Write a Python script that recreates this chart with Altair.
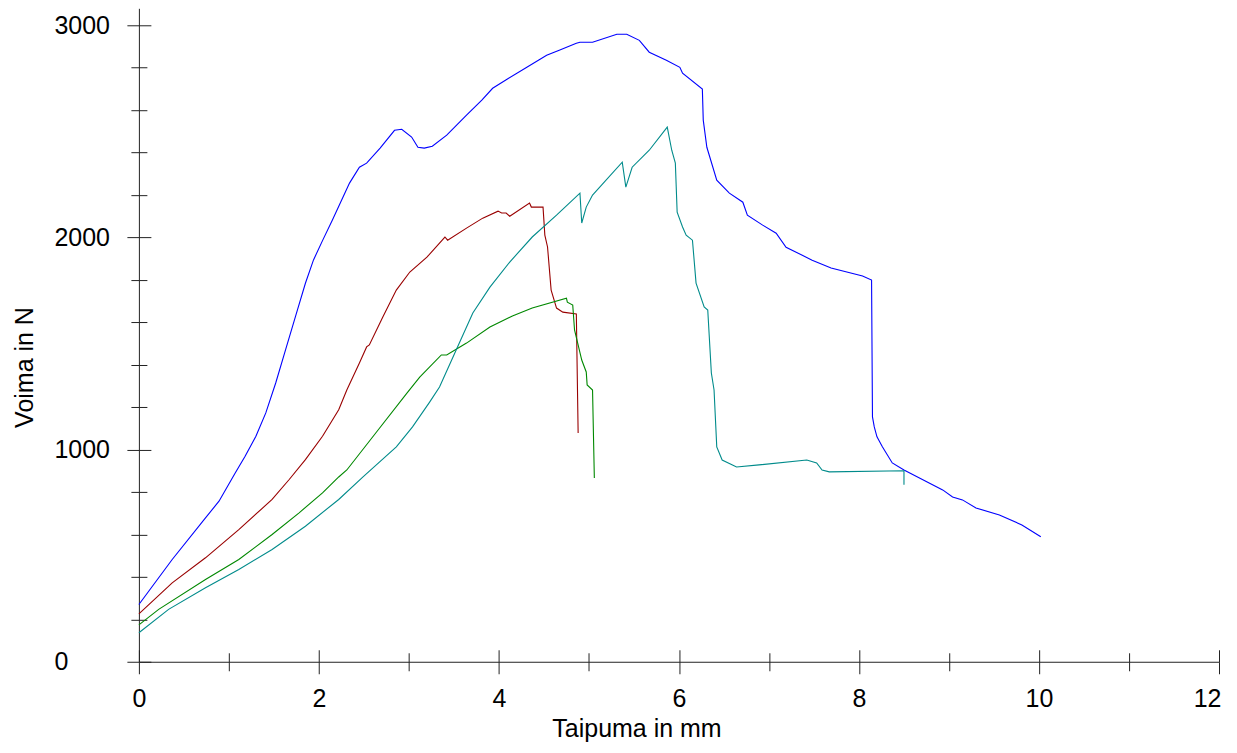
import altair as alt
import pandas as pd

# ---- data ----
blue_x = [0, 0.37, 0.74, 0.89, 1.07, 1.18, 1.30, 1.41, 1.52, 1.63, 1.74, 1.85, 1.94, 2.04, 2.15,
          2.34, 2.45, 2.53, 2.68, 2.84, 2.92, 3.03, 3.10, 3.17, 3.26, 3.42, 3.64, 3.81, 3.93, 4.09,
          4.31, 4.53, 4.67, 4.86, 4.90, 5.04, 5.31, 5.42, 5.56, 5.67, 5.86, 6.01, 6.04, 6.26, 6.27,
          6.31, 6.42, 6.56, 6.71, 6.76, 6.93, 7.08, 7.19, 7.48, 7.69, 8.04, 8.14, 8.15, 8.17, 8.20,
          8.26, 8.37, 8.50, 8.93, 9.04, 9.15, 9.30, 9.56, 9.81, 10.02]
blue_y = [270, 482, 678, 757, 890, 969, 1063, 1173, 1314, 1471, 1628, 1784, 1894, 1985, 2082,
          2256, 2331, 2350, 2421, 2505, 2510, 2473, 2425, 2421, 2430, 2482, 2576, 2647, 2703, 2746,
          2802, 2859, 2882, 2915, 2920, 2920, 2958, 2958, 2929, 2873, 2835, 2802, 2774, 2699, 2553,
          2425, 2270, 2209, 2166, 2105, 2058, 2020, 1954, 1893, 1856, 1818, 1799, 1154, 1107, 1060,
          1013, 937, 904, 810, 777, 763, 725, 692, 645, 589]

red_x = [0, 0.37, 0.74, 1.11, 1.48, 1.67, 1.85, 2.04, 2.22, 2.31, 2.45, 2.53, 2.56, 2.71, 2.86,
         3.01, 3.20, 3.40, 3.43, 3.64, 3.82, 3.99, 4.03, 4.08, 4.12, 4.34, 4.36, 4.49, 4.51, 4.54,
         4.58, 4.64, 4.71, 4.86, 4.88]
red_y = [226, 372, 490, 623, 765, 859, 953, 1063, 1188, 1281, 1408, 1484, 1493, 1625, 1752,
         1837, 1907, 2002, 1987, 2044, 2091, 2124, 2115, 2115, 2100, 2162, 2143, 2143, 2011, 1955,
         1752, 1667, 1648, 1639, 1078]

green_x = [0, 0.22, 0.74, 1.11, 1.48, 1.78, 2.04, 2.22, 2.31, 2.64, 2.98, 3.12, 3.36, 3.42, 3.64,
           3.90, 4.15, 4.37, 4.75, 4.76, 4.82, 4.84, 4.92, 4.97, 4.98, 5.04, 5.06]
green_y = [174, 247, 388, 482, 600, 702, 796, 871, 904, 1083, 1267, 1342, 1446, 1446, 1502,
           1578, 1630, 1667, 1714, 1695, 1681, 1564, 1422, 1366, 1305, 1281, 866]

teal_x = [0, 0.33, 0.74, 1.11, 1.48, 1.85, 2.22, 2.49, 2.86, 3.04, 3.23, 3.34, 3.54, 3.71, 3.90,
          4.12, 4.37, 4.64, 4.90, 4.92, 4.97, 5.04, 5.12, 5.37, 5.41, 5.48, 5.67, 5.87, 5.92, 5.96,
          5.98, 6.04, 6.08, 6.15, 6.19, 6.28, 6.32, 6.36, 6.39, 6.42, 6.48, 6.64, 6.89, 7.42, 7.53,
          7.59, 7.67, 8.50, 8.50]
teal_y = [137, 247, 349, 435, 529, 639, 765, 871, 1013, 1107, 1224, 1295, 1484, 1644, 1766,
          1884, 2002, 2105, 2209, 2068, 2143, 2200, 2237, 2355, 2237, 2331, 2411, 2520, 2411, 2350,
          2119, 2049, 2011, 1987, 1785, 1672, 1658, 1361, 1281, 1013, 951, 918, 928, 951, 937,
          904, 895, 900, 834]

series_names = ["blue", "red", "green", "teal"]
series_colors = ["#0000FF", "#990000", "#008800", "#008B8B"]

x_major = [0, 2, 4, 6, 8, 10]
x_last = [12]
x_minor = [1, 3, 5, 7, 9, 11]
y_major = [0, 1000, 2000, 3000]
y_minor = [200, 400, 600, 800, 1200, 1400, 1600, 1800, 2200, 2400, 2600, 2800]

x_title = "Taipuma in mm"
y_title = "Voima in N"

# ---- table ----
rows = []
for name, xs, ys in [("blue", blue_x, blue_y), ("red", red_x, red_y),
                     ("green", green_x, green_y), ("teal", teal_x, teal_y)]:
    for i, (xv, yv) in enumerate(zip(xs, ys)):
        rows.append({"s": name, "i": i, "x": xv, "y": yv})
df = pd.DataFrame(rows)

FONT = "Liberation Sans"
FS = 25
AX = "#222222"

xscale = alt.Scale(domain=[0, 12], nice=False, zero=False)
yscale = alt.Scale(domain=[0, 3080], nice=False, zero=False)

base = alt.Chart(df)

lines = base.mark_line(strokeWidth=1.1).encode(
    x=alt.X("x:Q", scale=xscale, axis=alt.Axis(
        orient="bottom", values=x_major, format="d", tickSize=12, tickColor=AX, tickWidth=1,
        domainColor=AX, domainWidth=1, grid=False, labelFont=FONT, labelFontSize=FS,
        labelColor="black", labelPadding=13, labelFlush=False, labelOverlap=False,
        title=x_title, titleFont=FONT, titleFontSize=FS, titleFontWeight="normal",
        titleColor="black", titleX=498, titleY=75, titleAlign="center",
        titleBaseline="alphabetic")),
    y=alt.Y("y:Q", scale=yscale, axis=alt.Axis(
        orient="left", values=y_major, format="d", tickSize=12, tickColor=AX, tickWidth=1,
        domainColor=AX, domainWidth=1, grid=False, labelFont=FONT, labelFontSize=FS,
        labelColor="black", labelPadding=73, labelAlign="left", labelBaseline="middle",
        labelFlush=False, labelOverlap=False,
        title=y_title, titleFont=FONT, titleFontSize=FS, titleFontWeight="normal",
        titleColor="black", titleAngle=270, titleX=-106, titleY=359, titleAlign="center",
        titleBaseline="alphabetic")),
    color=alt.Color("s:N", scale=alt.Scale(domain=series_names, range=series_colors), legend=None),
    order=alt.Order("i:Q"),
)

# last x label, kept inside the picture
last_label = base.mark_point(opacity=0, size=1).encode(
    x=alt.X("x:Q", scale=xscale, axis=alt.Axis(
        orient="bottom", values=x_last, format="d", tickSize=12, tickColor=AX, tickWidth=1,
        domain=False, grid=False, labelFont=FONT, labelFontSize=FS, labelColor="black",
        labelPadding=13, labelFlush=True, labelFlushOffset=2, labelOverlap=False, title=None)),
    y=alt.Y("y:Q", scale=yscale, axis=None),
)


def tick_layer(xvals, xsize, xoff, yvals, ysize, yoff):
    return base.mark_point(opacity=0, size=1).encode(
        x=alt.X("x:Q", scale=xscale, axis=alt.Axis(
            orient="bottom", values=xvals, tickSize=xsize, offset=xoff, tickColor=AX,
            tickWidth=1, domain=False, labels=False, grid=False, title=None)),
        y=alt.Y("y:Q", scale=yscale, axis=alt.Axis(
            orient="left", values=yvals, tickSize=ysize, offset=yoff, tickColor=AX,
            tickWidth=1, domain=False, labels=False, grid=False, title=None)),
    )


minor_out = tick_layer(x_minor, 9, 0, y_minor, 8, 0)
major_in = tick_layer(x_major + x_last, 12, -12, y_major, 12, -12)
minor_in = tick_layer(x_minor, 9, -9, y_minor, 8, -8)

chart = alt.layer(lines, last_label, minor_out, major_in, minor_in).resolve_axis(
    x="independent", y="independent"
).properties(
    width=1081, height=654,
    background="white",
    autosize=alt.AutoSizeParams(type="none"),
    padding={"left": 131, "top": 0, "right": 10, "bottom": 80},
).configure_view(stroke=None, strokeWidth=0)

chart.save("out.html", embed_options={"renderer": "svg", "actions": False})
